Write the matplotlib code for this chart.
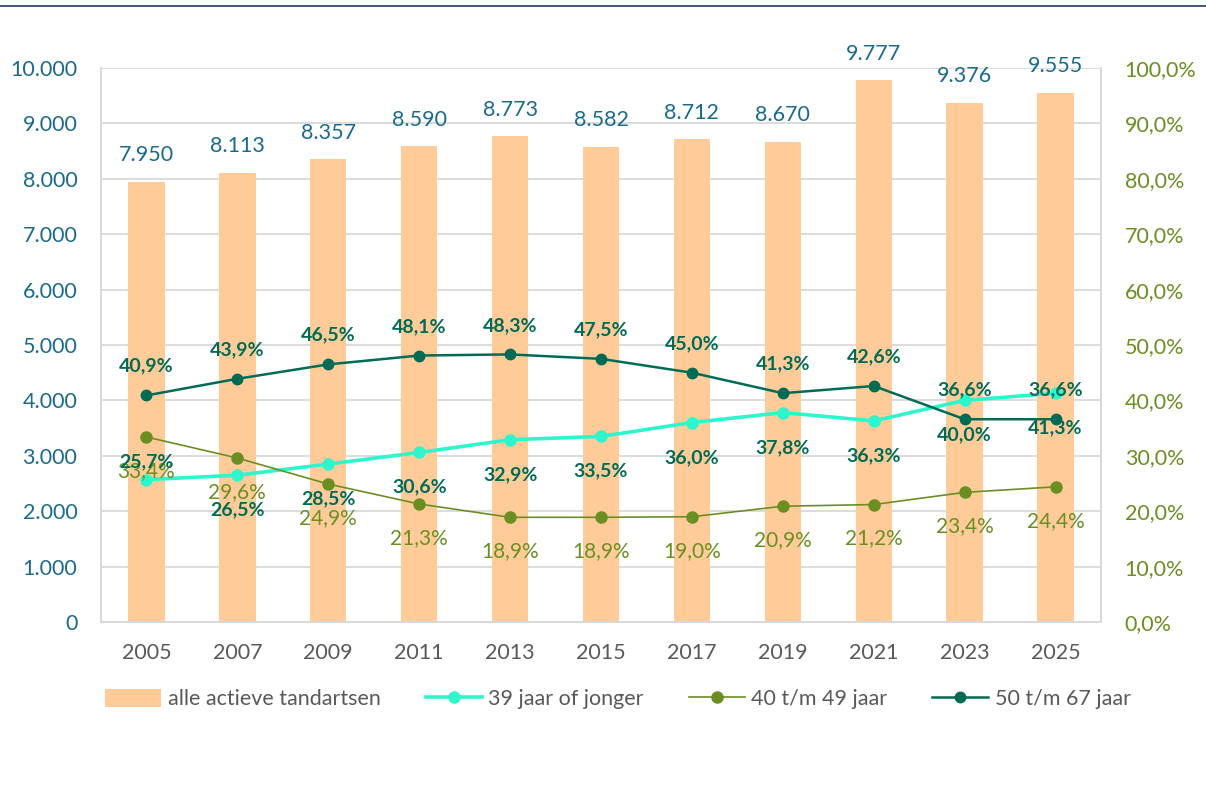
import matplotlib
matplotlib.use("Agg")
import matplotlib.pyplot as plt
from matplotlib.lines import Line2D

years = ["2005", "2007", "2009", "2011", "2013", "2015", "2017", "2019", "2021", "2023", "2025"]
totaal = [7950, 8113, 8357, 8590, 8773, 8582, 8712, 8670, 9777, 9376, 9555]
jong = [25.7, 26.5, 28.5, 30.6, 32.9, 33.5, 36.0, 37.8, 36.3, 40.0, 41.3]
midden = [33.4, 29.6, 24.9, 21.3, 18.9, 18.9, 19.0, 20.9, 21.2, 23.4, 24.4]
oud = [40.9, 43.9, 46.5, 48.1, 48.3, 47.5, 45.0, 41.3, 42.6, 36.6, 36.6]
left_ticks = list(range(0, 10001, 1000))
right_ticks = list(range(0, 101, 10))

plt.rcParams['font.family'] = ['Lato', 'DejaVu Sans']

BAR = "#FFCC99"
BLUE = "#1B6A8A"
OLIVE = "#6B8E23"
CYAN = "#2EF5CC"
DKGREEN = "#006B54"
GRID = "#D9D9D9"
GRAYTXT = "#595959"

fig = plt.figure(figsize=(12.06, 8.07), dpi=100)
ax = fig.add_axes([101/1206, 1-622/807, 1000/1206, (622-68)/807])
ax2 = ax.twinx()

x = list(range(len(years)))
ax.bar(x, totaal, width=0.4, color=BAR, zorder=2, label="alle actieve tandartsen")
ax.set_ylim(0, 10000)
ax.set_xlim(-0.5, len(years)-0.5)
ax.set_yticks(left_ticks)
ax.set_yticklabels([f"{v:,}".replace(",", ".") for v in left_ticks])
ax.set_xticks(x)
ax.set_xticklabels(years)
ax.grid(axis='y', color=GRID, linewidth=1.3, zorder=0)
ax.set_axisbelow(True)
ax.tick_params(axis='y', length=0, pad=17, labelsize=15.5, labelcolor=BLUE)
ax.tick_params(axis='x', length=0, pad=15, labelsize=15.5, labelcolor=GRAYTXT)
for s in ax.spines.values():
    s.set_color(GRID)
    s.set_linewidth(1.3)
ax.spines['top'].set_visible(False)

for xi, v in zip(x, totaal):
    ax.annotate(f"{v:,}".replace(",", "."), (xi, v), xytext=(0, 19), textcoords='offset points',
                ha='center', va='center', fontsize=15.5, color=BLUE)

ax2.set_ylim(0, 100)
ax2.set_yticks(right_ticks)
ax2.set_yticklabels([f"{v:.1f}%".replace(".", ",") for v in right_ticks])
ax2.tick_params(axis='y', length=0, pad=17, labelsize=15.5, labelcolor=OLIVE)
for s in ax2.spines.values():
    s.set_color(GRID)
    s.set_linewidth(1.3)
ax2.spines['top'].set_visible(False)

l1, = ax2.plot(x, jong, color=CYAN, lw=2.6, marker='o', ms=8, zorder=3, label="39 jaar of jonger")
l2, = ax2.plot(x, midden, color=OLIVE, lw=1.2, marker='o', ms=8, zorder=3, label="40 t/m 49 jaar")
l3, = ax2.plot(x, oud, color=DKGREEN, lw=1.8, marker='o', ms=7.5, zorder=4, label="50 t/m 67 jaar")

jong_off = [-13] + [25] * 10
for xi, v, o in zip(x, jong, jong_off):
    ax2.annotate(f"{v:.1f}%".replace(".", ","), (xi, v), xytext=(0, -o), textcoords='offset points',
                 ha='center', va='center', fontsize=14, fontweight='bold', color=DKGREEN, zorder=6)
for xi, v in zip(x, midden):
    ax2.annotate(f"{v:.1f}%".replace(".", ","), (xi, v), xytext=(0, -24.5), textcoords='offset points',
                 ha='center', va='center', fontsize=15, color=OLIVE, zorder=5)
for xi, v in zip(x, oud):
    ax2.annotate(f"{v:.1f}%".replace(".", ","), (xi, v), xytext=(0, 21), textcoords='offset points',
                 ha='center', va='center', fontsize=14, fontweight='bold', color=DKGREEN, zorder=6)

handles = [ax.containers[0], l1, l2, l3]
labels = ["alle actieve tandartsen", "39 jaar of jonger", "40 t/m 49 jaar", "50 t/m 67 jaar"]
leg = fig.legend(handles, labels, loc='center', bbox_to_anchor=(618/1206, 1-699/807), ncol=4,
                 frameon=False, fontsize=15.5, handlelength=2.6, handletextpad=0.3,
                 columnspacing=2.1, handleheight=0.9)
for t in leg.get_texts():
    t.set_color(GRAYTXT)

fig.add_artist(Line2D([0, 1], [1-6/807, 1-6/807], color="#1F3864", lw=1.2, transform=fig.transFigure))

fig.savefig("out.png", dpi=100)
